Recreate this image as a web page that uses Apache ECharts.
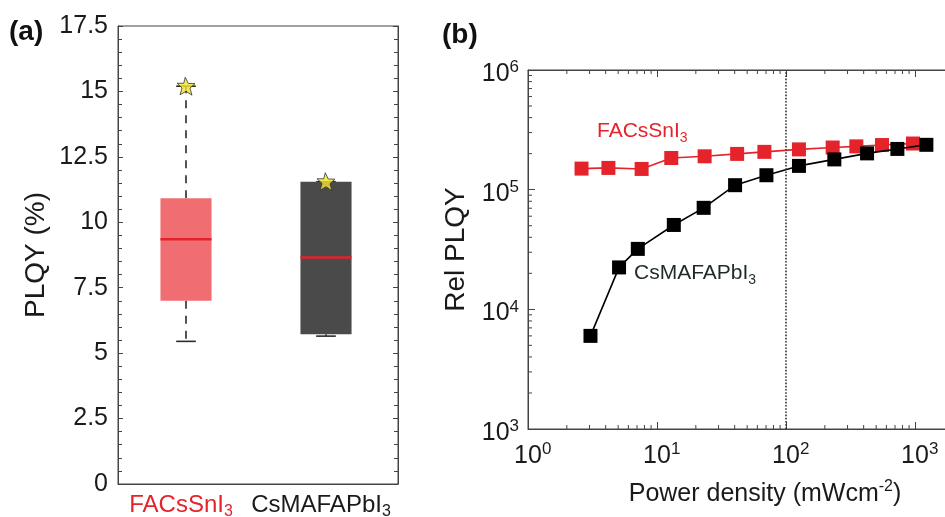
<!DOCTYPE html>
<html>
<head>
<meta charset="utf-8">
<script src="https://cdn.jsdelivr.net/npm/echarts@6/dist/echarts.min.js"></script>
<style>
  html, body { margin: 0; padding: 0; background: #ffffff; }
  #chart { width: 945px; height: 517px; }
</style>
</head>
<body>
<div id="chart"></div>
<script>
// ---- Panel (a): PLQY statistics per composition ----
const boxCategories = ['FACsSnI3', 'CsMAFAPbI3'];
// [lower whisker, Q1, median, Q3, upper whisker] in %
const boxFACsSnI3 = [5.45, 7.0, 9.35, 10.92, 15.2];
const boxCsMAFAPbI3 = [5.65, 5.72, 8.65, 11.55, 11.55];
// champion device of each composition (%)
const bestPLQY = [15.2, 11.55];

// ---- Panel (b): relative PLQY vs excitation power density ----
const powerSn = [2.6, 4.2, 7.6, 12.9, 23.4, 41.8, 68, 126, 230, 351, 555, 964];
const relSn = [1.50e5, 1.52e5, 1.49e5, 1.84e5, 1.90e5, 1.99e5, 2.07e5, 2.17e5, 2.25e5, 2.30e5, 2.36e5, 2.43e5];
const powerPb = [3.05, 5.08, 7.1, 13.5, 23, 40.3, 70.5, 126, 237, 425, 730, 1225];
const relPb = [6.0e3, 2.24e4, 3.2e4, 5.07e4, 7.05e4, 1.09e5, 1.32e5, 1.58e5, 1.79e5, 2.01e5, 2.19e5, 2.37e5];
const solarPower = 100; // 1 sun reference line, mW cm^-2

// log-axis minor tick positions (2..9 within each decade)
const xDecades = [1, 10, 100, 1000];
const yDecades = [1e3, 1e4, 1e5];
const minorSteps = [2, 3, 4, 5, 6, 7, 8, 9];

const RED = '#e5232a';
const AXIS = '#444444';
const TEXT = '#1a1a1a';
const FONT = '"Liberation Sans", Arial, Helvetica, sans-serif';

const xMinor = [];
xDecades.forEach(d => minorSteps.forEach(m => xMinor.push([m * d, 1e3])));
const yMinor = [];
yDecades.forEach(d => minorSteps.forEach(m => yMinor.push([1, m * d])));

const boxRows = [boxFACsSnI3, boxCsMAFAPbI3].map((s, i) => [i].concat(s));
const boxFills = ['#f06e72', '#4a4a4a'];

function splitSub(name) {
  const m = name.match(/^(.*?)(\d+)$/);
  return m ? [m[1], m[2]] : [name, ''];
}

function expLabel(v) {
  const e = Math.round(Math.log10(v));
  return '{sp|' + e + '}{b|10}{sup|' + e + '}';
}
function expLabelY(v) {
  const e = Math.round(Math.log10(v));
  return '{b|10}{sup|' + e + '}';
}

const expRich = {
  b: { fontSize: 25, lineHeight: 30, color: TEXT, fontFamily: FONT },
  sup: { fontSize: 17, verticalAlign: 'top', color: TEXT, fontFamily: FONT },
  sp: { fontSize: 17, color: 'rgba(0,0,0,0)', fontFamily: FONT }
};

function renderBox(params, api) {
  const i = api.value(0);
  const lo = api.coord([i, api.value(1)]);
  const q1 = api.coord([i, api.value(2)]);
  const med = api.coord([i, api.value(3)]);
  const q3 = api.coord([i, api.value(4)]);
  const hi = api.coord([i, api.value(5)]);
  const band = api.size([1, 0])[0];
  const bw = band * 0.365;
  const cw = band * 0.14;
  const cx = lo[0] - 2;
  const whisk = { stroke: '#2a2a2a', lineWidth: 1.6, lineDash: [8, 7] };
  const cap = { stroke: '#2a2a2a', lineWidth: 1.6 };
  return {
    type: 'group',
    children: [
      { type: 'line', shape: { x1: cx, y1: q3[1], x2: cx, y2: hi[1] }, style: whisk },
      { type: 'line', shape: { x1: cx, y1: q1[1], x2: cx, y2: lo[1] }, style: whisk },
      { type: 'line', shape: { x1: cx - cw / 2, y1: hi[1], x2: cx + cw / 2, y2: hi[1] }, style: cap },
      { type: 'line', shape: { x1: cx - cw / 2, y1: lo[1], x2: cx + cw / 2, y2: lo[1] }, style: cap },
      { type: 'rect', shape: { x: cx - bw / 2, y: q3[1], width: bw, height: q1[1] - q3[1] },
        style: { fill: boxFills[params.dataIndex], stroke: null } },
      { type: 'line', shape: { x1: cx - bw / 2, y1: med[1], x2: cx + bw / 2, y2: med[1] },
        style: { stroke: RED, lineWidth: 2.5 } }
    ]
  };
}

function renderXMinor(params, api) {
  const v = api.value(0);
  const b = api.coord([v, 1e3]);
  const t = api.coord([v, 1e6]);
  const st = { stroke: AXIS, lineWidth: 1 };
  return {
    type: 'group',
    children: [
      { type: 'line', shape: { x1: b[0], y1: b[1], x2: b[0], y2: b[1] - 4 }, style: st },
      { type: 'line', shape: { x1: t[0], y1: t[1], x2: t[0], y2: t[1] + 4 }, style: st }
    ]
  };
}

function renderYMinor(params, api) {
  const v = api.value(1);
  const l = api.coord([1, v]);
  return {
    type: 'line',
    shape: { x1: l[0], y1: l[1], x2: l[0] + 4, y2: l[1] },
    style: { stroke: AXIS, lineWidth: 1 }
  };
}

// five-point star, slightly tilted
const STAR = 'path://M46,0L62,32L98,33L71,56L82,92L50,72L18,90L29,55L2,31L38,31Z';

const chart = echarts.init(document.getElementById('chart'), null, { renderer: 'canvas' });

const option = {
  backgroundColor: '#ffffff',
  animation: false,
  textStyle: { fontFamily: FONT },
  grid: [
    { left: 118, top: 26, width: 280, height: 458, show: true, borderColor: AXIS, borderWidth: 1,
      backgroundColor: 'transparent', outerBoundsMode: 'none', containLabel: false },
    { left: 528, top: 70, width: 516, height: 359, show: true, borderColor: AXIS, borderWidth: 1,
      backgroundColor: 'transparent', outerBoundsMode: 'none', containLabel: false }
  ],
  xAxis: [
    {
      type: 'category', gridIndex: 0, data: boxCategories,
      axisLine: { lineStyle: { color: AXIS } },
      axisTick: { show: false },
      axisLabel: {
        interval: 0,
        hideOverlap: false,
        margin: 6,
        padding: [0, 14, 0, 0],
        formatter: (v, i) => {
          const p = splitSub(v);
          return i === 0 ? '{r|' + p[0] + '}{rs|' + p[1] + '}' : '{k|' + p[0] + '}{ks|' + p[1] + '}';
        },
        rich: {
          r: { fontSize: 24, lineHeight: 30, color: RED, fontFamily: FONT },
          rs: { fontSize: 16, verticalAlign: 'bottom', color: RED, fontFamily: FONT },
          k: { fontSize: 24, lineHeight: 30, color: TEXT, fontFamily: FONT },
          ks: { fontSize: 16, verticalAlign: 'bottom', color: TEXT, fontFamily: FONT }
        }
      }
    },
    {
      type: 'log', logBase: 10, gridIndex: 1, min: 1, max: 10000,
      axisLine: { onZero: false, lineStyle: { color: AXIS } },
      axisTick: { inside: true, length: 7, lineStyle: { color: AXIS } },
      splitLine: { show: false },
      axisLabel: { margin: 12, formatter: expLabel, rich: expRich },
      name: 'Power density (mWcm{sup|-2})',
      nameLocation: 'middle',
      nameGap: 50,
      nameTextStyle: {
        padding: [0, 42, 0, 0],
        rich: {
          sup: { fontSize: 16, verticalAlign: 'top', color: TEXT, fontFamily: FONT }
        },
        fontSize: 25, lineHeight: 30, color: TEXT, fontFamily: FONT
      }
    },
    {
      type: 'log', logBase: 10, gridIndex: 1, min: 1, max: 10000, position: 'top',
      axisLine: { onZero: false, lineStyle: { color: AXIS } },
      axisTick: { inside: true, length: 7, lineStyle: { color: AXIS } },
      axisLabel: { show: false },
      splitLine: { show: false }
    }
  ],
  yAxis: [
    {
      type: 'value', gridIndex: 0, min: 0, max: 17.5, interval: 2.5,
      axisLine: { show: true, lineStyle: { color: AXIS } },
      axisTick: { show: true, inside: true, length: 5, lineStyle: { color: AXIS } },
      minorTick: { show: true, splitNumber: 5, length: 4, lineStyle: { color: AXIS } },
      splitLine: { show: false },
      axisLabel: { fontSize: 25, color: TEXT, margin: 10, fontFamily: FONT },
      name: 'PLQY (%)',
      nameLocation: 'middle',
      nameGap: 68,
      nameTextStyle: { fontSize: 28, color: TEXT, fontFamily: FONT }
    },
    {
      type: 'value', gridIndex: 0, min: 0, max: 17.5, interval: 2.5, position: 'right',
      axisLine: { show: true, lineStyle: { color: AXIS } },
      axisTick: { show: true, inside: true, length: 5, lineStyle: { color: AXIS } },
      minorTick: { show: true, splitNumber: 5, length: 4, lineStyle: { color: AXIS } },
      splitLine: { show: false },
      axisLabel: { show: false }
    },
    {
      type: 'log', logBase: 10, gridIndex: 1, min: 1e3, max: 1e6,
      axisLine: { show: true, onZero: false, lineStyle: { color: AXIS } },
      axisTick: { show: true, inside: true, length: 7, lineStyle: { color: AXIS } },
      splitLine: { show: false },
      axisLabel: { margin: 9, formatter: expLabelY, rich: expRich, padding: [8, 0, 0, 0] },
      name: 'Rel PLQY',
      nameLocation: 'middle',
      nameGap: 58,
      nameTextStyle: { fontSize: 28, color: TEXT, fontFamily: FONT }
    }
  ],
  series: [
    {
      type: 'custom', xAxisIndex: 0, yAxisIndex: 0,
      renderItem: renderBox,
      encode: { x: 0, y: [1, 2, 3, 4, 5] },
      data: boxRows,
      z: 2
    },
    {
      type: 'scatter', xAxisIndex: 0, yAxisIndex: 0,
      symbol: STAR, symbolSize: 18, symbolOffset: [-2, 0],
      itemStyle: { color: '#f4e62c', borderColor: '#333333', borderWidth: 1 },
      data: bestPLQY.map((v, i) => [i, v]),
      z: 5
    },
    {
      type: 'custom', xAxisIndex: 1, yAxisIndex: 2,
      renderItem: renderXMinor, encode: { x: 0, y: 1 },
      data: xMinor, clip: false, silent: true, z: 1
    },
    {
      type: 'custom', xAxisIndex: 1, yAxisIndex: 2,
      renderItem: renderYMinor, encode: { x: 0, y: 1 },
      data: yMinor, clip: false, silent: true, z: 1
    },
    {
      name: 'FACsSnI3', type: 'line', xAxisIndex: 1, yAxisIndex: 2,
      data: powerSn.map((p, i) => [p, relSn[i]]),
      symbol: 'rect', symbolSize: 14,
      itemStyle: { color: RED },
      lineStyle: { color: RED, width: 1.6 },
      markLine: {
        silent: true, symbol: 'none', label: { show: false },
        lineStyle: { type: 'dotted', color: '#333333', width: 1.6 },
        data: [{ xAxis: solarPower }]
      },
      z: 3
    },
    {
      name: 'CsMAFAPbI3', type: 'line', xAxisIndex: 1, yAxisIndex: 2,
      data: powerPb.map((p, i) => [p, relPb[i]]),
      symbol: 'rect', symbolSize: 14,
      itemStyle: { color: '#000000' },
      lineStyle: { color: '#000000', width: 1.6 },
      z: 4
    }
  ],
  graphic: [
    { type: 'text', x: 9, y: 32, style: { text: '(a)', fontSize: 28, fontWeight: 'bold', fill: '#111', fontFamily: FONT, verticalAlign: 'middle' } },
    { type: 'text', x: 442, y: 35, style: { text: '(b)', fontSize: 28, fontWeight: 'bold', fill: '#111', fontFamily: FONT, verticalAlign: 'middle' } },
    { type: 'text', x: 597, y: 131, style: {
        text: '{n|FACsSnI}{s|3}', verticalAlign: 'middle',
        rich: {
          n: { fontSize: 21, lineHeight: 28, fill: RED, fontFamily: FONT },
          s: { fontSize: 14, verticalAlign: 'bottom', fill: RED, fontFamily: FONT }
        }
      } },
    { type: 'text', x: 634, y: 273, style: {
        text: '{n|CsMAFAPbI}{s|3}', verticalAlign: 'middle',
        rich: {
          n: { fontSize: 21, lineHeight: 28, fill: '#1e2b2b', fontFamily: FONT },
          s: { fontSize: 14, verticalAlign: 'bottom', fill: '#1e2b2b', fontFamily: FONT }
        }
      } }
  ]
};

chart.setOption(option);
</script>
</body>
</html>
